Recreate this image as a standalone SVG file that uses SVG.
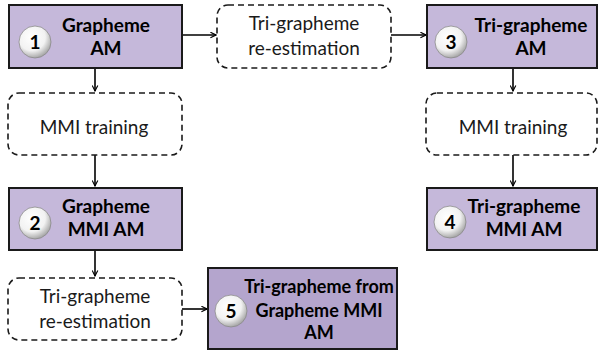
<svg xmlns="http://www.w3.org/2000/svg" width="600" height="351" viewBox="0 0 600 351">
<defs>
<radialGradient id="ball" cx="0.4" cy="0.35" r="0.7">
<stop offset="0" stop-color="#ffffff"/>
<stop offset="0.6" stop-color="#f2f2f2"/>
<stop offset="1" stop-color="#9a9a9a"/>
</radialGradient>
<marker id="arr" viewBox="0 0 10 10" refX="9" refY="5" markerWidth="7" markerHeight="7" orient="auto" markerUnits="userSpaceOnUse">
<path d="M1,1 L9,5 L1,9" fill="none" stroke="#000" stroke-width="1.6"/>
</marker>
</defs>
<style>
.box{fill:#c5b8da;stroke:#1a1a1a;stroke-width:2}
.box5{fill:#b4a5cd;stroke:#1a1a1a;stroke-width:2}
.dash{fill:#fff;stroke:#1a1a1a;stroke-width:1.6;stroke-dasharray:6 4}
.ball{fill:url(#ball);stroke:#8a8a8a;stroke-width:0.8}
.num{font-family:Lato,"Open Sans","Liberation Sans",sans-serif;font-weight:bold;font-size:19px;fill:#000;text-anchor:middle}
.bt{font-family:Lato,"Open Sans","Liberation Sans",sans-serif;font-weight:bold;font-size:19px;fill:#000;text-anchor:middle}
.bt5{font-size:18px}
.rt{font-family:Lato,"Open Sans","Liberation Sans",sans-serif;font-size:19px;fill:#1a1a1a;text-anchor:middle}
.con{fill:none;stroke:#000;stroke-width:1.6;marker-end:url(#arr)}
</style>
<g id="connectors">
<path class="con" d="M95,68 V91"/>
<path class="con" d="M95,155 V186"/>
<path class="con" d="M95,250 V276"/>
<path class="con" d="M182,35 H216"/>
<path class="con" d="M391,35 H426"/>
<path class="con" d="M513,68 V91"/>
<path class="con" d="M513,155 V186"/>
<path class="con" d="M182,309 H207"/>
</g>
<g id="node1">
<rect class="box" x="9" y="5" width="173" height="63"/>
<circle class="ball" cx="35" cy="42" r="16"/>
<text class="num" x="35" y="49">1</text>
<text class="bt" x="106" y="32">Grapheme</text>
<text class="bt" x="106" y="55">AM</text>
</g>
<g id="retri1">
<rect class="dash" x="217" y="5" width="174" height="63" rx="11"/>
<text class="rt" x="304" y="30">Tri-grapheme</text>
<text class="rt" x="304" y="55">re-estimation</text>
</g>
<g id="node3">
<rect class="box" x="427" y="5" width="170" height="63"/>
<circle class="ball" cx="451" cy="42" r="16"/>
<text class="num" x="451" y="49">3</text>
<text class="bt" x="531" y="32">Tri-grapheme</text>
<text class="bt" x="531" y="55">AM</text>
</g>
<g id="mmi1">
<rect class="dash" x="8" y="93" width="174" height="62" rx="11"/>
<text class="rt" x="94" y="134">MMI training</text>
</g>
<g id="mmi2">
<rect class="dash" x="426" y="93" width="171" height="62" rx="11"/>
<text class="rt" x="513" y="134">MMI training</text>
</g>
<g id="node2">
<rect class="box" x="9" y="188" width="173" height="62"/>
<circle class="ball" cx="35" cy="223" r="16"/>
<text class="num" x="35" y="230">2</text>
<text class="bt" x="106" y="213">Grapheme</text>
<text class="bt" x="106" y="236">MMI AM</text>
</g>
<g id="node4">
<rect class="box" x="427" y="188" width="170" height="62"/>
<circle class="ball" cx="450" cy="222" r="16"/>
<text class="num" x="450" y="229">4</text>
<text class="bt" x="524" y="213">Tri-grapheme</text>
<text class="bt" x="524" y="236">MMI AM</text>
</g>
<g id="retri2">
<rect class="dash" x="8" y="278" width="174" height="62" rx="11"/>
<text class="rt" x="95" y="303">Tri-grapheme</text>
<text class="rt" x="95" y="328">re-estimation</text>
</g>
<g id="node5">
<rect class="box5" x="208" y="268" width="189" height="81"/>
<circle class="ball" cx="231" cy="311" r="16"/>
<text class="num" x="231" y="318">5</text>
<text class="bt bt5" x="319" y="293">Tri-grapheme from</text>
<text class="bt bt5" x="319" y="317">Grapheme MMI</text>
<text class="bt bt5" x="319" y="339">AM</text>
</g>
</svg>
